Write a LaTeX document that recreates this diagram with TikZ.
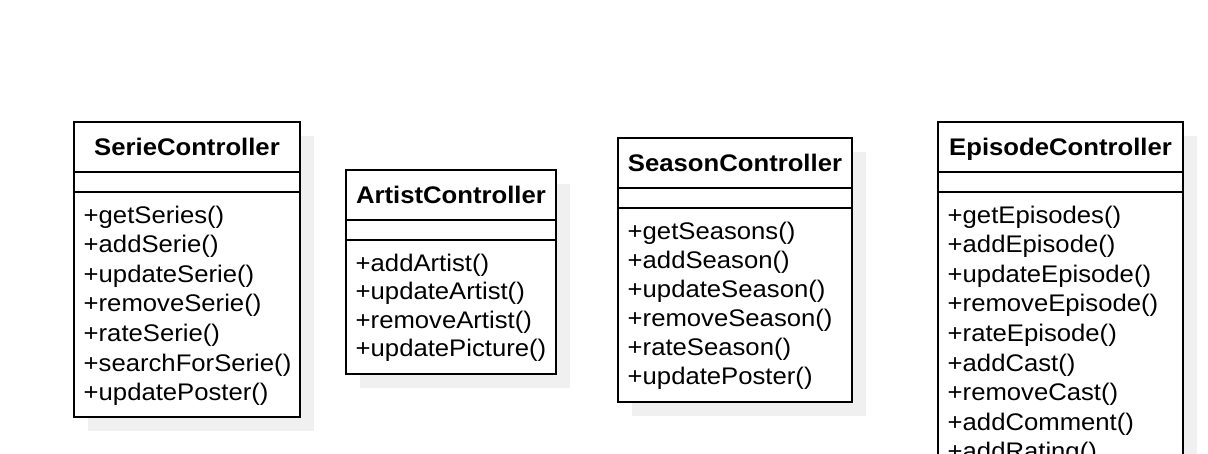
\documentclass[tikz,border=0pt]{standalone}
\usepackage{fontspec}
\setmainfont{Liberation Sans}[FakeStretch=1.07]
\definecolor{shadowgray}{HTML}{F0F0F0}
\tikzset{
  classframe/.style={draw=black, line width=2pt},
  classshadow/.style={fill=shadowgray},
  classtitle/.style={inner sep=0pt, anchor=base, font=\fontsize{24}{29}\selectfont\bfseries},
  classmethod/.style={inner sep=0pt, anchor=base west, font=\fontsize{24}{29}\selectfont},
}
% #1 name, #2 left, #3 top, #4 right, #5 bottom, #6 title, #7 line pitch, #8 operations
\newcommand\classbox[8]{%
  \fill[classshadow] ({#2+14},{#3+14}) rectangle ({#4+14},{#5+14});
  \fill[white] (#2,#3) rectangle (#4,#5);
  \draw[classframe] (#2,#3) rectangle (#4,#5);
  \draw[classframe] (#2,{#3+50}) -- (#4,{#3+50});
  \draw[classframe] (#2,{#3+70}) -- (#4,{#3+70});
  \node[classtitle] (#1-title) at ({(#2+#4)/2},{#3+33.5}) {#6};
  \foreach \m [count=\i] in {#8} {
    \node[classmethod] (#1-m\i) at ({#2+9.5},{#3+101.5+(\i-1)*#7}) {\m};
  }%
}
\begin{document}
\begin{tikzpicture}[x=1pt,y=-1pt]
\useasboundingbox (0,0) rectangle (1208,454);
\clip (0,0) rectangle (1208,454);
\fill[white] (0,0) rectangle (1208,454);

\classbox{serie}{74}{122}{300}{417}{SerieController}{29.5}%
  {+getSeries(),+addSerie(),+updateSerie(),+removeSerie(),+rateSerie(),+searchForSerie(),+updatePoster()}

\classbox{artist}{346}{170}{556}{374}{ArtistController}{28.3}%
  {+addArtist(),+updateArtist(),+removeArtist(),+updatePicture()}

\classbox{season}{618}{138}{852}{402}{SeasonController}{29}%
  {+getSeasons(),+addSeason(),+updateSeason(),+removeSeason(),+rateSeason(),+updatePoster()}

\classbox{episode}{938}{122}{1183}{520}{EpisodeController}{29.5}%
  {+getEpisodes(),+addEpisode(),+updateEpisode(),+removeEpisode(),+rateEpisode(),+addCast(),+removeCast(),+addComment(),+addRating()}
\end{tikzpicture}
\end{document}
